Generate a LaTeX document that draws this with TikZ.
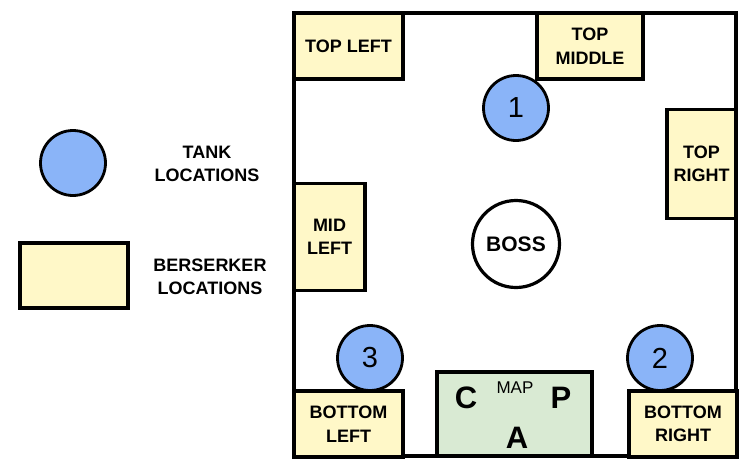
\documentclass[tikz,border=0pt]{standalone}
\usepackage{fontspec}
\setmainfont{Liberation Sans}
\definecolor{tankblue}{RGB}{138,180,248}
\definecolor{beryellow}{RGB}{255,248,200}
\definecolor{mapgreen}{RGB}{217,234,211}
\tikzset{
  wall/.style={draw=black, line width=3.8pt},
  berbox/.style={draw=black, line width=3.6pt, fill=beryellow, rectangle, inner sep=0pt, align=center,
     font=\bfseries\fontsize{18}{23.5}\selectfont},
  tankcirc/.style={draw=black, line width=2.8pt, fill=tankblue, circle, minimum size=65pt, inner sep=0pt,
     font=\fontsize{29}{29}\selectfont},
  lbl/.style={align=center, inner sep=0pt, font=\bfseries\fontsize{18}{22.5}\selectfont},
  bigletter/.style={inner sep=0pt, font=\bfseries\fontsize{31}{31}\selectfont},
}
\begin{document}
\begin{tikzpicture}[x=1pt,y=-1pt]
\useasboundingbox (0,0) rectangle (750,469);
% room
\node[wall, rectangle, minimum width=442pt, minimum height=443pt, inner sep=0pt] (room) at (515,234.5) {};
% berserker boxes
\node[berbox, minimum width=109pt, minimum height=66pt] (tl) at (348.5,46) {TOP LEFT};
\node[berbox, minimum width=106pt, minimum height=66pt] (tm) at (590,46) {TOP\\MIDDLE};
\node[berbox, minimum width=69pt, minimum height=109pt] (tr) at (701.5,164) {TOP\\RIGHT};
\node[berbox, minimum width=71pt, minimum height=107pt] (ml) at (329.5,237) {MID\\LEFT};
\node[berbox, minimum width=109pt, minimum height=66pt] (bl) at (348.5,424) {BOTTOM\\LEFT};
\node[berbox, minimum width=108pt, minimum height=66pt] (br) at (683,424) {BOTTOM\\RIGHT};
% map
\node[draw=black, line width=3.6pt, fill=mapgreen, rectangle, minimum width=155pt, minimum height=84pt] (map) at (514.5,414) {};
\node[bigletter] (mc) at (466,398) {C};
\node[bigletter] (mp) at (561,398) {P};
\node[bigletter] (ma) at (517,438) {A};
\node[inner sep=0pt, font=\fontsize{17}{17}\selectfont] (mm) at (515,388) {MAP};
% tanks
\node[tankcirc] (t1) at (516,108) {1};
\node[tankcirc] (t2) at (660,358) {2};
\node[tankcirc] (t3) at (370,358) {3};
% boss
\node[draw=black, line width=3.2pt, fill=white, circle, minimum size=87pt, inner sep=0pt,
      font=\bfseries\fontsize{21}{21}\selectfont] (boss) at (516,244) {BOSS};
% legend
\node[tankcirc] (legtank) at (73,163) {};
\node[berbox, minimum width=108pt, minimum height=65pt] (legber) at (74,275.5) {};
\node[lbl] (tanklbl) at (207,164) {TANK\\LOCATIONS};
\node[lbl] (berlbl) at (210,277) {BERSERKER\\LOCATIONS};
\end{tikzpicture}
\end{document}
